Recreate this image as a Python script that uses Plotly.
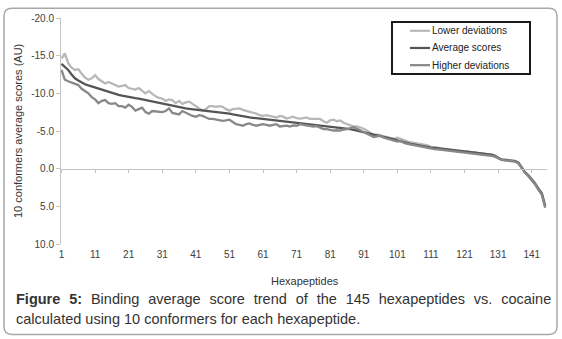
import plotly.graph_objects as go

# ---------------- data ----------------
peptide_index = list(range(1, 146))

average_scores = [
    -13.9, -13.5, -13.1, -12.5, -12.0, -11.7, -11.4, -11.2, -11.05, -10.9,
    -10.8, -10.65, -10.5, -10.35, -10.2, -10.0, -9.9, -9.8, -9.7, -9.6,
    -9.5, -9.45, -9.35, -9.3, -9.2, -9.1, -9.0, -8.9, -8.8, -8.7,
    -8.6, -8.5, -8.45, -8.35, -8.25, -8.15, -8.05, -8.0, -7.95, -7.9,
    -7.85, -7.8, -7.75, -7.7, -7.65, -7.6, -7.55, -7.5, -7.45, -7.4,
    -7.3, -7.2, -7.1, -7.0, -6.9, -6.85, -6.8, -6.75, -6.7, -6.65,
    -6.6, -6.55, -6.5, -6.45, -6.4, -6.35, -6.3, -6.25, -6.2, -6.15,
    -6.1, -6.05, -6.0, -5.95, -5.9, -5.85, -5.8, -5.75, -5.7, -5.65,
    -5.6, -5.55, -5.5, -5.45, -5.4, -5.35, -5.25, -5.15, -5.05, -4.95,
    -4.85, -4.75, -4.6, -4.5, -4.4, -4.3, -4.2, -4.1, -4.0, -3.9,
    -3.75, -3.6, -3.5, -3.4, -3.3, -3.2, -3.1, -3.0, -2.95, -2.9,
    -2.8, -2.75, -2.7, -2.6, -2.55, -2.5, -2.45, -2.4, -2.35, -2.3,
    -2.25, -2.2, -2.15, -2.1, -2.05, -2.0, -1.95, -1.9, -1.85, -1.7,
    -1.4, -1.2, -1.15, -1.1, -1.05, -1.0, -0.8, -0.1, 0.5, 0.9,
    1.4, 2.0, 2.7, 3.3, 5.0,
]

lower_deviations = [
    -14.6, -15.3, -14.0, -13.4, -13.1, -13.2, -12.6, -12.1, -11.8, -12.0,
    -12.4, -11.9, -11.6, -11.3, -11.5, -11.3, -11.1, -10.9, -11.0, -11.1,
    -10.7, -10.6, -10.5, -10.7, -10.4, -10.0, -10.3, -9.9, -9.6, -9.4,
    -9.3, -9.0, -9.2, -9.1, -8.7, -9.0, -8.6, -8.8, -8.9, -8.6,
    -8.3, -8.1, -7.7, -7.9, -8.3, -8.3, -8.2, -8.3, -8.2, -7.9,
    -7.7, -7.9, -8.0, -8.0, -7.8, -7.7, -7.6, -7.4, -7.3, -7.1,
    -7.0, -7.1, -7.0, -6.9, -6.8, -7.0, -6.9, -6.65, -6.8, -6.9,
    -6.7, -6.65, -6.7, -6.8, -6.6, -6.6, -6.5, -6.6, -6.3, -6.1,
    -6.4, -6.5, -6.3, -6.4, -6.1, -5.9, -5.8, -5.6, -5.6, -5.5,
    -5.3, -5.05, -4.7, -4.4, -4.5, -4.4, -4.3, -4.2, -4.1, -3.95,
    -4.1, -4.0, -3.8, -3.6, -3.5, -3.5, -3.3, -3.2, -3.2, -3.1,
    -2.9, -2.9, -2.8, -2.7, -2.7, -2.6, -2.5, -2.5, -2.4, -2.4,
    -2.35, -2.3, -2.2, -2.2, -2.1, -2.0, -2.0, -1.9, -1.85, -1.75,
    -1.45, -1.25, -1.2, -1.15, -1.1, -1.05, -0.85, -0.15, 0.45, 0.85,
    1.35, 1.9, 2.6, 3.2, 4.8,
]

higher_deviations = [
    -13.1, -11.8, -11.6, -11.4, -11.3, -11.1, -10.6, -10.3, -10.0, -9.5,
    -9.2, -8.7, -9.0, -9.1, -8.7, -8.6, -8.7, -8.3, -8.3, -8.1,
    -8.5, -8.2, -7.7, -7.9, -8.1, -7.5, -7.3, -7.65, -7.6, -7.5,
    -7.5, -7.65, -8.0, -7.4, -7.3, -7.2, -7.65, -7.4, -7.2, -7.0,
    -6.9, -7.1, -7.0, -6.8, -6.6, -6.6, -6.5, -6.45, -6.35, -6.4,
    -6.5, -6.2, -5.9, -5.8, -5.7, -5.9, -6.0, -5.8, -5.7, -5.8,
    -5.9, -5.8, -5.7, -5.8, -5.9, -5.6, -5.7, -5.7, -5.6, -5.75,
    -5.7, -5.9, -5.8, -5.7, -5.6, -5.6, -5.65, -5.5, -5.25, -5.25,
    -5.1, -5.05, -5.1, -5.05, -5.2, -5.25, -5.4, -5.5, -5.3, -5.05,
    -4.8, -4.6, -4.4, -4.2, -4.3, -4.4, -4.1, -3.95, -3.9, -3.75,
    -3.6, -3.7, -3.4, -3.3, -3.2, -3.1, -3.0, -2.9, -2.85, -2.8,
    -2.7, -2.6, -2.55, -2.5, -2.45, -2.35, -2.3, -2.25, -2.2, -2.15,
    -2.1, -2.05, -2.0, -1.95, -1.9, -1.85, -1.8, -1.75, -1.7, -1.6,
    -1.35, -1.15, -1.1, -1.05, -1.0, -0.95, -0.7, 0.0, 0.55, 1.0,
    1.5, 2.1, 2.8, 3.45, 5.2,
]

x_tick_values = [1, 11, 21, 31, 41, 51, 61, 71, 81, 91, 101, 111, 121, 131, 141]
y_tick_values = [-20, -15, -10, -5, 0, 5, 10]
y_tick_labels = ["-20.0", "-15.0", "-10.0", "-5.0", "0.0", "5.0", "10.0"]

series_names = ["Lower deviations", "Average scores", "Higher deviations"]
series_colors = ["#b8b8b8", "#555555", "#888888"]

caption_line1_words = ["<b>Figure", "5:</b>", "Binding", "average", "score", "trend",
                       "of", "the", "145", "hexapeptides", "vs.", "cocaine"]
caption_line2 = "calculated using 10 conformers for each hexapeptide."

# ---------------- layout geometry (pixels) ----------------
W, H = 562, 339
ML, MR, MT, MB = 61, 15, 14, 95
PW, PH = W - ML - MR, H - MT - MB


def px_x(px):
    return (px - ML) / PW


def px_y(py):
    return (H - MB - py) / PH


FONT = "Liberation Sans, Arial, sans-serif"
TXT = "#404040"

fig = go.Figure()
for name, ys, col in zip(series_names,
                         [lower_deviations, average_scores, higher_deviations],
                         series_colors):
    fig.add_trace(go.Scatter(x=peptide_index, y=ys, mode="lines", name=name,
                             line=dict(color=col, width=2.3), showlegend=False))

# invisible trace on the secondary x axis (zero-line axis with ticks)
fig.add_trace(go.Scatter(x=peptide_index, y=average_scores, xaxis="x2",
                         mode="lines", line=dict(width=0, color="rgba(0,0,0,0)"),
                         showlegend=False, hoverinfo="skip"))

x_range = [0.85, 145.55]
y_range = [10, -20]
zero_frac = (y_range[0] - 0) / (y_range[0] - y_range[1])

# rounded outer frame (paper coords)
x0, x1 = px_x(4), px_x(557)
y0, y1 = px_y(336), px_y(4)
rx, ry = 8 / PW, 8 / PH
frame = (f"M {x0+rx},{y1} L {x1-rx},{y1} Q {x1},{y1} {x1},{y1-ry} "
         f"L {x1},{y0+ry} Q {x1},{y0} {x1-rx},{y0} L {x0+rx},{y0} "
         f"Q {x0},{y0} {x0},{y0+ry} L {x0},{y1-ry} Q {x0},{y1} {x0+rx},{y1} Z")

shapes = [dict(type="path", xref="paper", yref="paper", path=frame,
               line=dict(color="#a8a8a8", width=1.5), fillcolor="rgba(0,0,0,0)",
               layer="below"),
          # legend box
          dict(type="rect", xref="paper", yref="paper",
               x0=px_x(392), x1=px_x(530), y0=px_y(71), y1=px_y(18),
               line=dict(color="#1a1a1a", width=2), fillcolor="white", layer="above")]

annotations = []
legend_rows = [27, 44.5, 62]
for name, col, ry_ in zip(series_names, series_colors, legend_rows):
    shapes.append(dict(type="line", xref="paper", yref="paper",
                       x0=px_x(410), x1=px_x(430), y0=px_y(ry_), y1=px_y(ry_),
                       line=dict(color=col, width=2.2), layer="above"))
    annotations.append(dict(text=name, xref="paper", yref="paper",
                            x=px_x(430), y=px_y(ry_), showarrow=False,
                            xanchor="left", yanchor="middle",
                            font=dict(family=FONT, size=10, color="#222222")))

gap = " \u2004"
annotations += [
    dict(text="10 conformers average scores (AU)", xref="paper", yref="paper",
         x=px_x(18), y=px_y(129), textangle=-90, showarrow=False,
         xanchor="center", yanchor="middle",
         font=dict(family=FONT, size=11, color="#333333")),
    dict(text="Hexapeptides", xref="paper", yref="paper",
         x=px_x(305), y=px_y(282), showarrow=False,
         xanchor="center", yanchor="middle",
         font=dict(family=FONT, size=11, color="#333333")),
    dict(text=gap.join(caption_line1_words),
         xref="paper", yref="paper", x=px_x(14), y=px_y(300), showarrow=False,
         xanchor="left", yanchor="middle", align="left",
         font=dict(family=FONT, size=14.5, color="#333333")),
    dict(text=caption_line2,
         xref="paper", yref="paper", x=px_x(14), y=px_y(320), showarrow=False,
         xanchor="left", yanchor="middle", align="left",
         font=dict(family=FONT, size=14.5, color="#333333")),
]

fig.update_layout(
    width=W, height=H,
    margin=dict(l=ML, r=MR, t=MT, b=MB, pad=0),
    paper_bgcolor="white", plot_bgcolor="white",
    font=dict(family=FONT, size=10, color=TXT),
    showlegend=False,
    xaxis=dict(range=x_range, tickvals=x_tick_values, showgrid=False,
               zeroline=False, showline=False, ticks="outside", ticklen=1,
               tickcolor="rgba(0,0,0,0)", tickfont=dict(size=10, color=TXT)),
    xaxis2=dict(range=x_range, overlaying="x", anchor="free", position=zero_frac,
                side="bottom", tickvals=x_tick_values, showticklabels=False,
                showgrid=False, zeroline=False, showline=True,
                linecolor="#c4c4c4", linewidth=1, ticks="outside", ticklen=3,
                tickcolor="#c4c4c4"),
    yaxis=dict(range=y_range, tickvals=y_tick_values, ticktext=y_tick_labels,
               showgrid=False, zeroline=False, showline=True,
               linecolor="#c4c4c4", linewidth=1, ticks="outside", ticklen=4,
               tickcolor="#c4c4c4", tickfont=dict(size=10, color=TXT)),
    shapes=shapes,
    annotations=annotations,
)

fig.write_html("out.html",
               config={"displayModeBar": False, "staticPlot": True},
               post_script="document.body.style.margin='0';document.body.style.overflow='hidden';")
